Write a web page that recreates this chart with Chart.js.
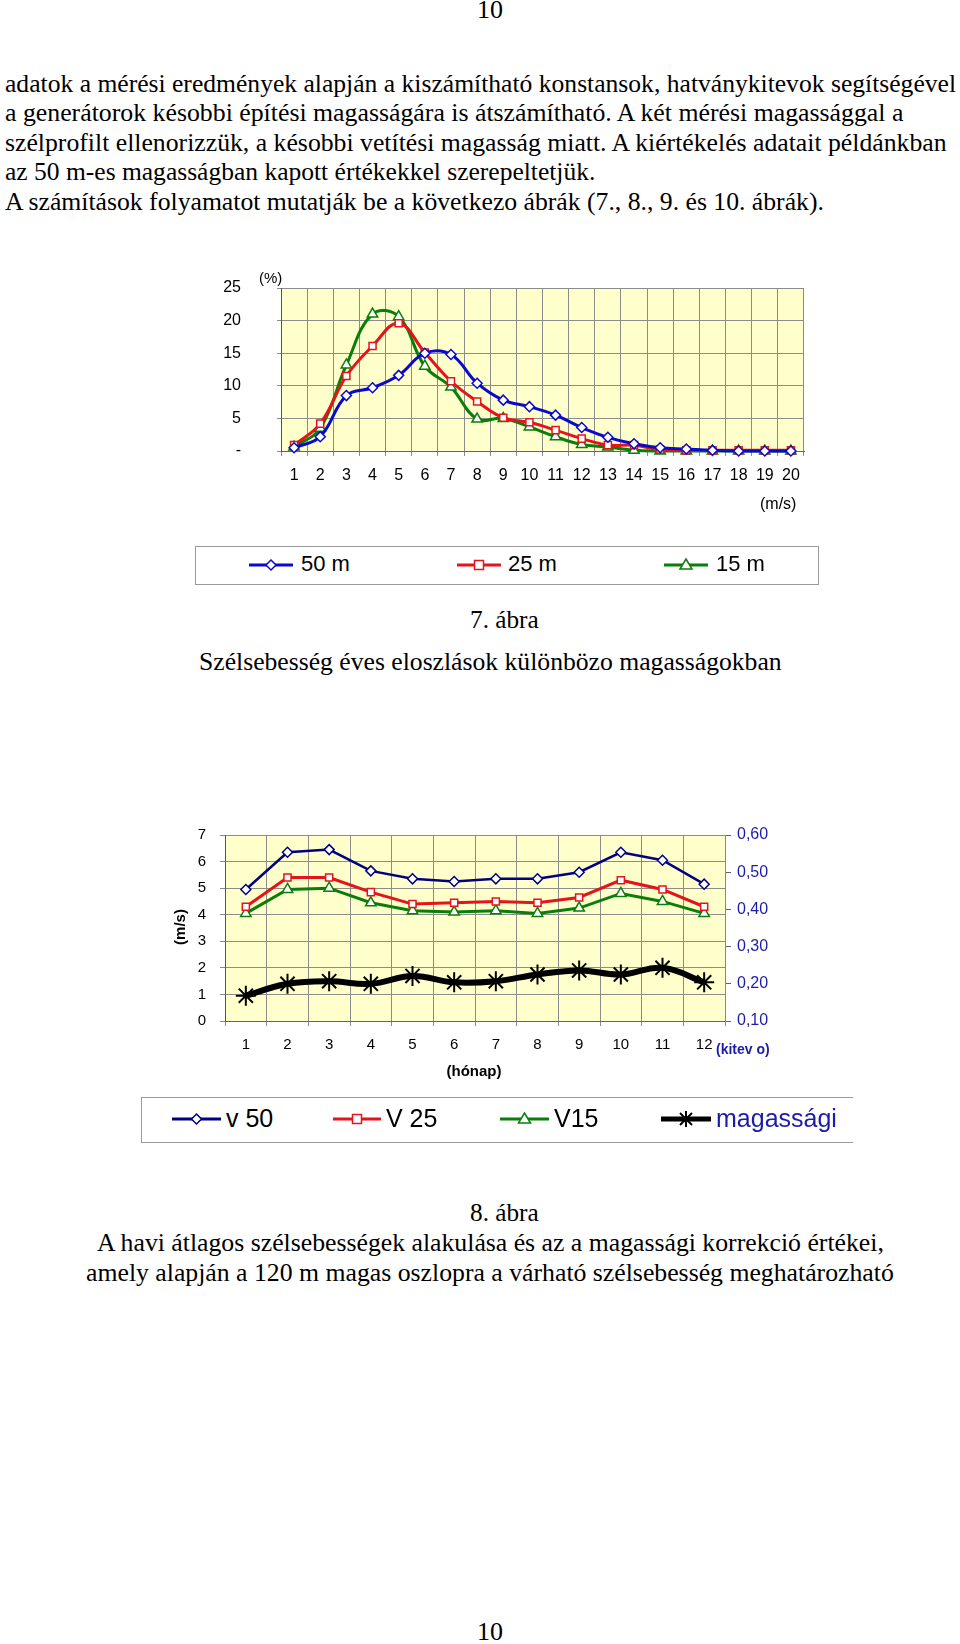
<!DOCTYPE html>
<html>
<head>
<meta charset="utf-8">
<script src="https://cdn.jsdelivr.net/npm/chart.js@4/dist/chart.umd.min.js"></script>
<style>
body { margin:0; width:960px; height:1644px; background:#fff; position:relative; overflow:hidden; }
.t { position:absolute; white-space:nowrap; font-family:'Liberation Serif','Times New Roman',serif; font-size:26px; color:#000; line-height:1; transform-origin:0 50%; }
.s { position:absolute; white-space:nowrap; font-family:'Liberation Sans',Arial,sans-serif; color:#000; line-height:1; }
.box { position:absolute; border:1px solid #9a9a9a; box-sizing:border-box; }
canvas { position:absolute; }
</style>
</head>
<body>

<!-- page text -->
<div class="t" data-x="490" data-y="10" data-c="1">10</div>
<div class="t" data-x="5" data-y="84" data-w="951">adatok a mérési eredmények alapján a kiszámítható konstansok, hatványkitevok segítségével</div>
<div class="t" data-x="5" data-y="113" data-w="898">a generátorok késobbi építési magasságára is átszámítható. A két mérési magassággal a</div>
<div class="t" data-x="5" data-y="143" data-w="942">szélprofilt ellenorizzük, a késobbi vetítési magasság miatt. A kiértékelés adatait példánkban</div>
<div class="t" data-x="5" data-y="172" data-w="590">az 50 m-es magasságban kapott értékekkel szerepeltetjük.</div>
<div class="t" data-x="5" data-y="202" data-w="819">A számítások folyamatot mutatják be a következo ábrák (7., 8., 9. és 10. ábrák).</div>

<!-- chart 1 -->
<canvas id="c1" width="680" height="240" style="left:150px;top:260px"></canvas>
<div class="s" style="left:259px;top:270px;font-size:15px">(%)</div>
<div class="s" style="left:760px;top:496px;font-size:16px">(m/s)</div>
<div class="box" style="left:195px;top:546px;width:624px;height:39px"></div>
<div id="leg1"></div>
<div class="t" data-x="504" data-y="620" data-c="1" data-w="69">7. ábra</div>
<div class="t" data-x="490" data-y="662" data-c="1" data-w="583">Szélsebesség éves eloszlások különbözo magasságokban</div>

<!-- chart 2 -->
<canvas id="c2" width="650" height="250" style="left:140px;top:815px"></canvas>
<div class="s" style="left:179px;top:927px;font-size:15px;font-weight:bold;transform:translate(-50%,-50%) rotate(-90deg);transform-origin:50% 50%">(m/s)</div>
<div class="s" style="left:474px;top:1063px;font-size:15px;font-weight:bold;transform:translateX(-50%)">(hónap)</div>
<div class="s" style="left:716px;top:1042px;font-size:14px;font-weight:bold;color:#1c1ca8">(kitev o)</div>
<div class="box" style="left:141px;top:1097px;width:712px;height:46px;border-right:none"></div>
<div id="leg2"></div>
<div class="t" data-x="504" data-y="1213" data-c="1" data-w="69">8. ábra</div>
<div class="t" data-x="490" data-y="1243" data-c="1" data-w="787">A havi átlagos szélsebességek alakulása és az a magassági korrekció értékei,</div>
<div class="t" data-x="490" data-y="1273" data-c="1" data-w="808">amely alapján a 120 m magas oszlopra a várható szélsebesség meghatározható</div>

<div class="t" data-x="490" data-y="1632" data-c="1">10</div>

<script>
// --- chart 7: wind speed distribution (%) ---
var speedLabels = ['1','2','3','4','5','6','7','8','9','10','11','12','13','14','15','16','17','18','19','20'];
var share50 = [0.5, 2.2, 8.5, 9.7, 11.6, 15.0, 14.8, 10.4, 7.8, 6.8, 5.5, 3.6, 2.1, 1.1, 0.5, 0.3, 0.1, 0, 0, 0];
var share25 = [0.9, 4.2, 11.5, 16.1, 19.6, 15.1, 10.7, 7.6, 5.1, 4.4, 3.2, 1.9, 0.9, 0.9, 0.2, 0.1, 0.1, 0.1, 0.1, 0.1];
var share15 = [0.6, 3.5, 13.2, 21.0, 20.6, 13.0, 9.8, 4.9, 5.0, 3.7, 2.2, 1.0, 0.6, 0.1, 0, 0, 0, 0, 0, 0];

// --- chart 8: monthly mean speeds (m/s) and exponent ---
var monthLabels = ['1','2','3','4','5','6','7','8','9','10','11','12'];
var v50 = [4.95, 6.35, 6.45, 5.65, 5.35, 5.25, 5.35, 5.35, 5.6, 6.35, 6.05, 5.15];
var v25 = [4.3, 5.4, 5.4, 4.85, 4.4, 4.45, 4.5, 4.45, 4.65, 5.3, 4.95, 4.3];
var v15 = [4.05, 4.95, 5.0, 4.45, 4.15, 4.1, 4.15, 4.05, 4.25, 4.8, 4.5, 4.05];
var exponent = [0.168, 0.200, 0.207, 0.200, 0.221, 0.204, 0.207, 0.225, 0.236, 0.225, 0.243, 0.204];

var sans = "'Liberation Sans', Arial, sans-serif";
var blue = '#0a0acc', red = '#e3141b', green = '#0b7d0b', navy = '#000080', axisBlue = '#1c1ca8';
var gridCol = '#8c8c8c';

// text placement
document.querySelectorAll('.t').forEach(function(el) {
	var x = +el.dataset.x, y = +el.dataset.y, w = el.dataset.w ? +el.dataset.w : null;
	var nat = el.offsetWidth, h = el.offsetHeight;
	var sx = w ? w / nat : 1;
	var width = nat * sx;
	el.style.left = (el.dataset.c ? x - width / 2 : x) + 'px';
	el.style.top = (y - h / 2) + 'px';
	if (sx != 1) el.style.transform = 'scaleX(' + sx + ')';
});

// legend samples
function marker(kind, cx, cy, col) {
	if (kind == 'diamond') return '<polygon points="' + cx + ',' + (cy - 5) + ' ' + (cx + 5) + ',' + cy + ' ' + cx + ',' + (cy + 5) + ' ' + (cx - 5) + ',' + cy + '" fill="#fff" stroke="' + col + '" stroke-width="1.5"/>';
	if (kind == 'square') return '<rect x="' + (cx - 4.5) + '" y="' + (cy - 4.5) + '" width="9" height="9" fill="#fff" stroke="' + col + '" stroke-width="1.5"/>';
	if (kind == 'triangle') return '<polygon points="' + cx + ',' + (cy - 6) + ' ' + (cx + 6) + ',' + (cy + 4) + ' ' + (cx - 6) + ',' + (cy + 4) + '" fill="#fff" stroke="' + col + '" stroke-width="1.5"/>';
	var s = '';
	[[0, 8], [8, 0], [6, 6], [6, -6]].forEach(function(d) {
		s += '<line x1="' + (cx - d[0]) + '" y1="' + (cy - d[1]) + '" x2="' + (cx + d[0]) + '" y2="' + (cy + d[1]) + '" stroke="' + col + '" stroke-width="2"/>';
	});
	return s;
}
function legend(id, items, cy, fontSize, lw) {
	var html = '';
	items.forEach(function(it) {
		var w = it.x2 - it.x1;
		html += '<svg style="position:absolute;left:' + it.x1 + 'px;top:' + (cy - 10) + 'px" width="' + w + '" height="20">' +
			'<line x1="0" y1="10" x2="' + w + '" y2="10" stroke="' + it.col + '" stroke-width="' + (it.lw || lw) + '" stroke-linecap="round"/>' +
			marker(it.m, w / 2, 10, it.col) + '</svg>';
		html += '<div class="s" style="left:' + it.tx + 'px;top:' + (cy - fontSize / 2 - 1) + 'px;font-size:' + fontSize + 'px;color:' + (it.tc || '#000') + '">' + it.label + '</div>';
	});
	document.getElementById(id).innerHTML = html;
}
legend('leg1', [
	{x1: 249, x2: 293, tx: 301, col: blue, m: 'diamond', label: '50 m'},
	{x1: 457, x2: 501, tx: 508, col: red, m: 'square', label: '25 m'},
	{x1: 664, x2: 708, tx: 716, col: green, m: 'triangle', label: '15 m'}
], 565, 22, 3);
legend('leg2', [
	{x1: 172, x2: 221, tx: 226, col: navy, m: 'diamond', label: 'v 50'},
	{x1: 333, x2: 381, tx: 386, col: red, m: 'square', label: 'V 25'},
	{x1: 500, x2: 549, tx: 554, col: green, m: 'triangle', label: 'V15'},
	{x1: 661, x2: 711, tx: 716, col: '#000', m: 'star', label: 'magassági', tc: axisBlue, lw: 5}
], 1119, 25, 3);

// yellow plot background
var plotBg = {
	id: 'plotBg',
	beforeDraw: function(chart) {
		var a = chart.chartArea, ctx = chart.ctx;
		ctx.save();
		ctx.fillStyle = '#ffffcc';
		ctx.fillRect(a.left, a.top, a.right - a.left, a.bottom - a.top);
		ctx.restore();
	}
};

function ds(label, data, col, style, r, bw, tension) {
	return {
		label: label, data: data, borderColor: col, borderWidth: bw, tension: tension,
		pointStyle: style, pointRadius: r, pointBackgroundColor: '#fff', pointBorderColor: col,
		pointBorderWidth: 1.5, clip: false
	};
}

// fixed axis width, no extra top/bottom padding from the tick padding
function fixWidth(w) {
	return function(s) { s.width = w; s.paddingTop = 0; s.paddingBottom = 0; };
}

new Chart(document.getElementById('c1'), {
	type: 'line',
	data: {
		labels: speedLabels,
		datasets: [
			ds('50 m', share50, blue, 'rectRot', 5, 3, 0.4),
			ds('25 m', share25, red, 'rect', 5, 3, 0.4),
			ds('15 m', share15, green, 'triangle', 6, 3, 0.4)
		]
	},
	options: {
		responsive: false,
		animation: false,
		layout: {padding: {top: 28, right: 26, left: 0, bottom: 0}},
		plugins: {legend: {display: false}, tooltip: {enabled: false}},
		scales: {
			x: {
				offset: true,
				grid: {offset: true, color: gridCol, tickLength: 5},
				border: {color: '#666'},
				ticks: {padding: 10, color: '#000', font: {family: sans, size: 16}, autoSkip: false, maxRotation: 0},
				afterFit: function(s) { s.height = 49; }
			},
			y: {
				min: 0, max: 25,
				grid: {color: gridCol, tickLength: 4},
				border: {color: '#555'},
				ticks: {stepSize: 5, padding: 36, color: '#000', font: {family: sans, size: 16},
					callback: function(v) { return v === 0 ? '-' : v; }},
				afterFit: fixWidth(131)
			}
		}
	},
	plugins: [plotBg]
});

new Chart(document.getElementById('c2'), {
	type: 'line',
	data: {
		labels: monthLabels,
		datasets: [
			ds('v 50', v50, navy, 'rectRot', 5, 2.5, 0),
			ds('V 25', v25, red, 'rect', 5, 3, 0),
			ds('V15', v15, green, 'triangle', 6, 3, 0),
			Object.assign(ds('magassági', exponent, '#000', 'star', 10, 6, 0.4), {yAxisID: 'y1', pointBorderWidth: 2})
		]
	},
	options: {
		responsive: false,
		animation: false,
		layout: {padding: {top: 20, right: 0, left: 0, bottom: 0}},
		plugins: {legend: {display: false}, tooltip: {enabled: false}},
		scales: {
			x: {
				offset: true,
				grid: {offset: true, color: gridCol, tickLength: 5},
				border: {color: '#666'},
				ticks: {padding: 10, color: '#000', font: {family: sans, size: 15}, autoSkip: false, maxRotation: 0},
				afterFit: function(s) { s.height = 44; }
			},
			y: {
				min: 0, max: 7,
				grid: {color: gridCol, tickLength: 5},
				border: {color: '#555'},
				ticks: {stepSize: 1, padding: 14, color: '#000', font: {family: sans, size: 15}},
				afterFit: fixWidth(85)
			},
			y1: {
				position: 'right',
				min: 0.1, max: 0.6,
				grid: {drawOnChartArea: false, color: '#666', tickLength: 6},
				border: {color: '#888'},
				ticks: {stepSize: 0.1, padding: 6, color: axisBlue, font: {family: sans, size: 16},
					callback: function(v) { return v.toFixed(2).replace('.', ','); }},
				afterFit: fixWidth(65)
			}
		}
	},
	plugins: [plotBg]
});
</script>
</body>
</html>
